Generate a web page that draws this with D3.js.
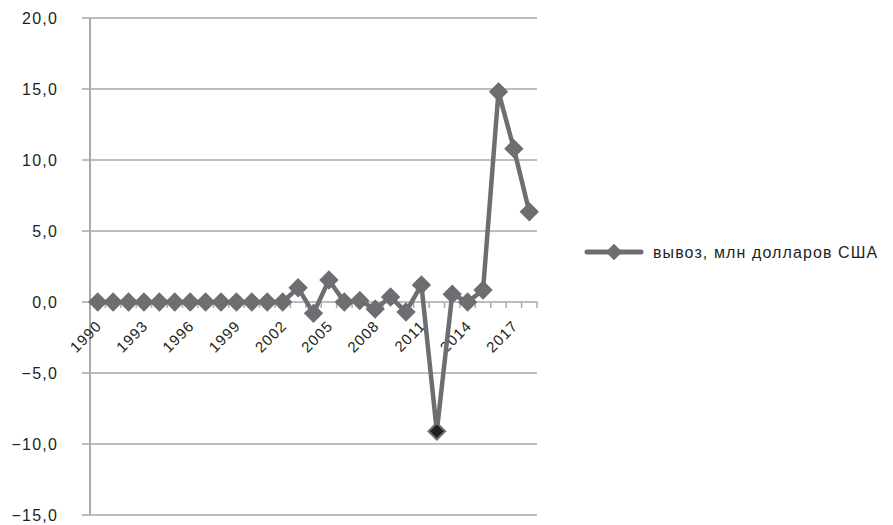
<!DOCTYPE html>
<html>
<head>
<meta charset="utf-8">
<script src="https://cdn.jsdelivr.net/npm/d3@7"></script>
<style>
  body { margin: 0; background: #fff; }
  text { font-family: "Liberation Sans", Arial, sans-serif; fill: #231f20; }
</style>
</head>
<body>
<div id="chart"></div>
<script>
// years and export values (mln USD)
var years = d3.range(1990, 2019);
var values = [0, 0, 0, 0, 0, 0, 0, 0, 0, 0, 0, 0, 0,
              1.0, -0.8, 1.55, 0, 0.1, -0.5, 0.35, -0.7, 1.2, -9.1,
              0.55, 0, 0.85, 14.8, 10.8, 6.35];
var yTicks = [-15, -10, -5, 0, 5, 10, 15, 20];
var tickYears = years.filter(function(y){ return (y - 1990) % 3 === 0; });
var seriesName = 'вывоз, млн долларов США';

var W = 893, H = 525,
    margin = {left: 90, right: 356, top: 18, bottom: 10},
    grey = '#6d6e71', gridc = '#a7a9ac';

var svg = d3.select('#chart').append('svg')
    .attr('width', W).attr('height', H);

var x = d3.scaleBand().domain(years)
    .range([margin.left, W - margin.right]);
var y = d3.scaleLinear().domain([-15, 20])
    .range([H - margin.bottom, margin.top]);
var xEnd = x.range()[1];

// grid + y labels
svg.append('g').selectAll('line').data(yTicks).enter().append('line')
    .attr('x1', margin.left - 8).attr('x2', xEnd)
    .attr('y1', function(d){ return y(d); }).attr('y2', function(d){ return y(d); })
    .attr('stroke', gridc).attr('stroke-width', 1.5);

svg.append('g').selectAll('text').data(yTicks).enter().append('text')
    .attr('x', 58).attr('y', function(d){ return y(d); })
    .attr('dy', '0.35em').attr('text-anchor', 'end')
    .style('font-size', '16px').style('letter-spacing', '1.2px')
    .text(function(d){ return (d < 0 ? '\u2212' : '') + Math.abs(d).toFixed(1).replace('.', ','); });

// vertical axis line
svg.append('line')
    .attr('x1', margin.left).attr('x2', margin.left)
    .attr('y1', y(20)).attr('y2', y(-15))
    .attr('stroke', gridc).attr('stroke-width', 2);

// x axis ticks on zero line
var xTickPos = years.map(function(d){ return x(d); }).concat([xEnd]);
svg.append('g').selectAll('line').data(xTickPos).enter().append('line')
    .attr('x1', function(d){ return d; }).attr('x2', function(d){ return d; })
    .attr('y1', y(0)).attr('y2', y(0) + 6)
    .attr('stroke', gridc).attr('stroke-width', 1.5);

svg.append('g').selectAll('text').data(tickYears).enter().append('text')
    .attr('transform', function(d){
        return 'translate(' + (x(d) + x.bandwidth() / 2 + 5) + ',' + (y(0) + 25) + ') rotate(-45)';
    })
    .attr('text-anchor', 'end')
    .style('font-size', '15px').style('letter-spacing', '1px')
    .text(function(d){ return d; });

// series line
var cx = function(i){ return x(years[i]) + x.bandwidth() / 2; };
var line = d3.line()
    .x(function(d, i){ return cx(i); })
    .y(function(d){ return y(d); });

svg.append('path').datum(values)
    .attr('d', line)
    .attr('fill', 'none')
    .attr('stroke', grey).attr('stroke-width', 4.5)
    .attr('stroke-linejoin', 'round');

var diamond = d3.symbol().type(d3.symbolDiamond2).size(175);
svg.append('g').selectAll('path').data(values).enter().append('path')
    .attr('d', diamond)
    .attr('transform', function(d, i){ return 'translate(' + cx(i) + ',' + y(d) + ')'; })
    .attr('fill', function(d){ return d < -5 ? '#231f20' : grey; })
    .attr('stroke', grey).attr('stroke-width', 2);

// legend
var lg = svg.append('g').attr('transform', 'translate(587,252)');
lg.append('line').attr('x1', 0).attr('x2', 54)
    .attr('stroke', grey).attr('stroke-width', 5).attr('stroke-linecap', 'round');
lg.append('path').attr('d', diamond)
    .attr('transform', 'translate(27,0)')
    .attr('fill', grey);
lg.append('text').attr('x', 66).attr('dy', '0.35em')
    .style('font-size', '16px').style('letter-spacing', '1.1px')
    .text(seriesName);
</script>
</body>
</html>
